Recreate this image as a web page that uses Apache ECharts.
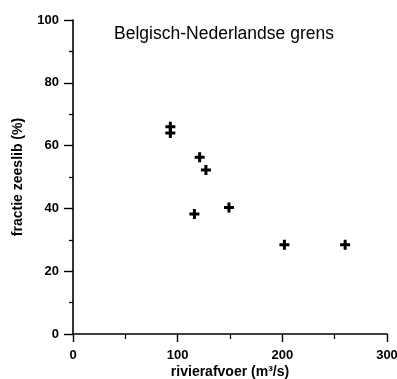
<!DOCTYPE html>
<html><head><meta charset="utf-8">
<script src="https://cdn.jsdelivr.net/npm/echarts@6/dist/echarts.min.js"></script>
<style>html,body{margin:0;padding:0;background:#fff}#c{width:397px;height:379px}</style>
</head><body><div id="c"></div>
<script>
const titleText = "Belgisch-Nederlandse grens";
const xName = "rivierafvoer (m\u00B3/s)";
const yName = "fractie zeeslib (%)";
const discharge = [93, 93, 121, 127, 116, 149, 202, 260];
const marineFraction = [66, 64, 56.3, 52.2, 38.2, 40.3, 28.4, 28.4];
const xTicks = [0, 100, 200, 300];
const yTicks = [0, 20, 40, 60, 80, 100];

const data = discharge.map((x, i) => [x, marineFraction[i]]);
const chart = echarts.init(document.getElementById('c'), null, {renderer: 'canvas'});
const font = 'Liberation Sans, Arial, sans-serif';
chart.setOption({
  animation: false,
  backgroundColor: '#fff',
  title: {
    text: titleText, left: 219, top: 20, textAlign: 'center',
    textStyle: {fontFamily: font, fontSize: 17.5, fontWeight: 'normal', color: '#000'}
  },
  grid: {left: 73, top: 20, right: 10, bottom: 45, containLabel: false, outerBoundsMode: 'none'},
  xAxis: {
    type: 'value', min: xTicks[0], max: xTicks[xTicks.length - 1], interval: 100,
    name: xName, nameLocation: 'middle', nameGap: 31, nameMoveOverlap: false,
    nameTextStyle: {fontFamily: font, fontSize: 14, fontWeight: 'bold', color: '#000'},
    axisLine: {show: true, lineStyle: {color: '#000', width: 1.6}},
    axisTick: {show: true, length: 8, lineStyle: {color: '#000', width: 1.4}},
    minorTick: {show: true, splitNumber: 2, length: 5, lineStyle: {color: '#000', width: 1.3}},
    splitLine: {show: false},
    axisLabel: {fontFamily: font, fontSize: 13, fontWeight: 'bold', color: '#000', margin: 15}
  },
  yAxis: {
    type: 'value', min: yTicks[0], max: yTicks[yTicks.length - 1], interval: 20,
    name: yName, nameLocation: 'middle', nameGap: 48, nameMoveOverlap: false,
    nameTextStyle: {fontFamily: font, fontSize: 14, fontWeight: 'bold', color: '#000'},
    axisLine: {show: true, lineStyle: {color: '#000', width: 1.6}},
    axisTick: {show: true, length: 9, lineStyle: {color: '#000', width: 1.4}},
    minorTick: {show: true, splitNumber: 2, length: 4, lineStyle: {color: '#000', width: 1.3}},
    splitLine: {show: false},
    axisLabel: {fontFamily: font, fontSize: 13, fontWeight: 'bold', color: '#000', margin: 14}
  },
  series: [{
    type: 'scatter', data: data,
    symbol: 'path://M3.5,0 L6.5,0 L6.5,3.5 L10,3.5 L10,6.5 L6.5,6.5 L6.5,10 L3.5,10 L3.5,6.5 L0,6.5 L0,3.5 L3.5,3.5 Z',
    symbolSize: 10,
    itemStyle: {color: '#000', opacity: 1}
  }]
});
</script></body></html>
